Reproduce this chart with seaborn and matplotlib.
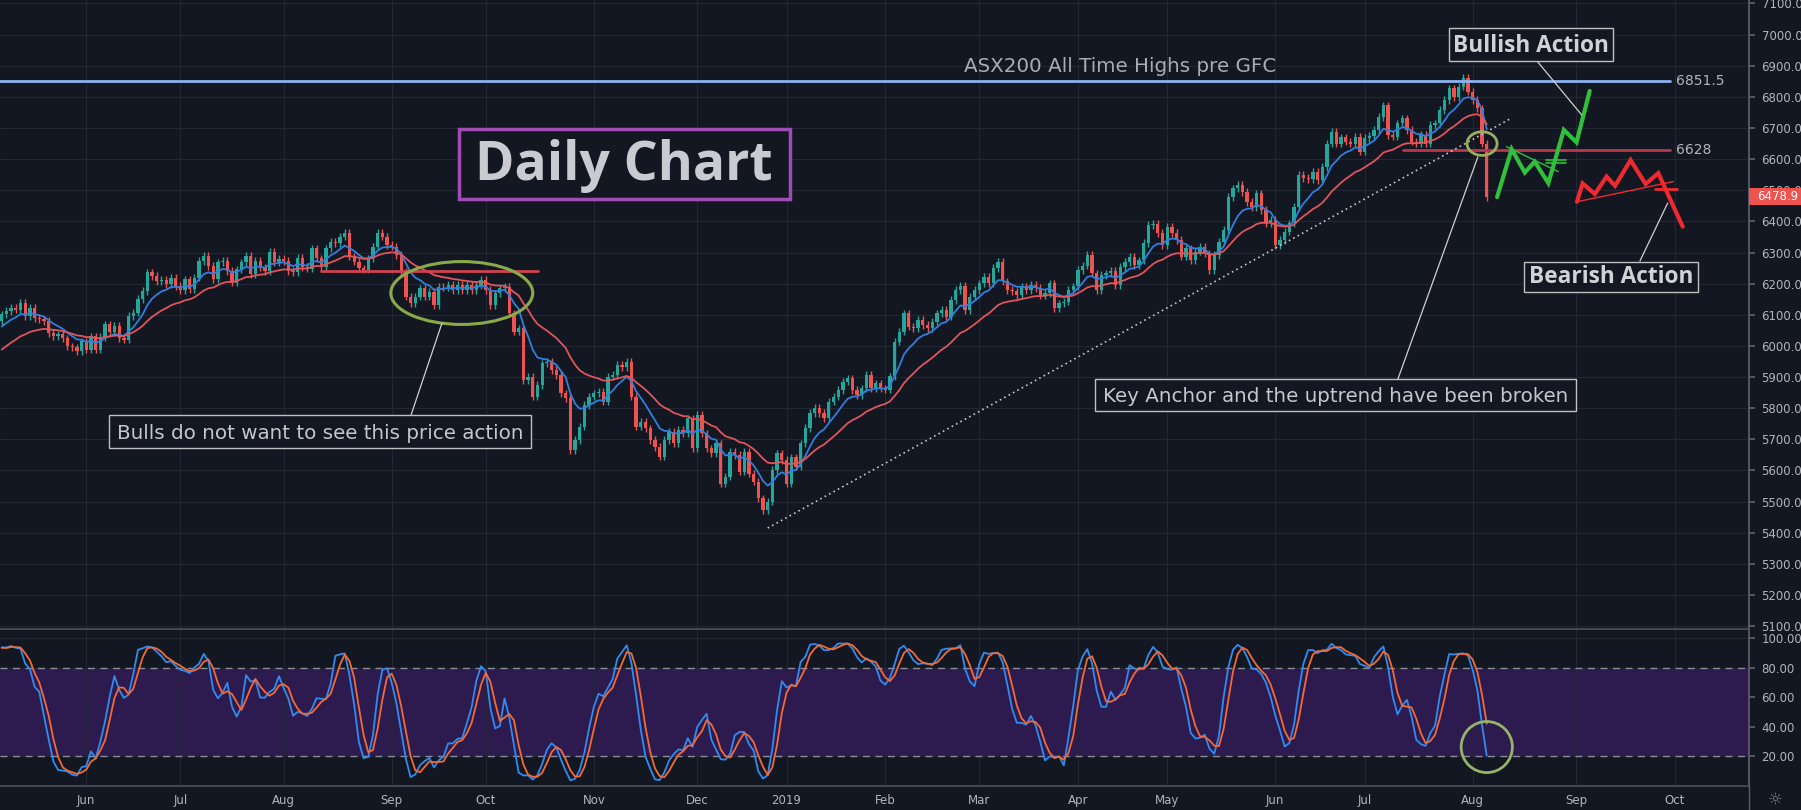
import numpy as np
import pandas as pd
import seaborn as sns
import matplotlib.pyplot as plt
from matplotlib.patches import Ellipse, Rectangle
from matplotlib.lines import Line2D

# ---- data (ASX200 daily closes, 8 May 2018 -> 6 Aug 2019) ----
closes = [
    6101, 6112, 6123, 6117, 6139, 6096, 6123, 6090, 6085, 6080,
    6042, 6031, 6037, 6024, 5999, 5995, 5983, 6015, 5988, 6031,
    5988, 6028, 6069, 6045, 6064, 6026, 6020, 6096, 6107, 6150,
    6176, 6236, 6225, 6209, 6212, 6198, 6219, 6193, 6179, 6214,
    6182, 6219, 6273, 6289, 6257, 6214, 6268, 6273, 6241, 6203,
    6246, 6268, 6289, 6230, 6273, 6252, 6241, 6303, 6268, 6279,
    6273, 6241, 6236, 6283, 6254, 6248, 6313, 6281, 6254, 6313,
    6335, 6330, 6351, 6362, 6287, 6271, 6249, 6245, 6281, 6319,
    6362, 6351, 6324, 6319, 6292, 6238, 6158, 6137, 6158, 6185,
    6158, 6174, 6131, 6190, 6188, 6196, 6180, 6196, 6180, 6196,
    6180, 6196, 6212, 6180, 6131, 6169, 6185, 6190, 6105, 6046,
    6056, 5890, 5901, 5837, 5874, 5944, 5949, 5923, 5907, 5848,
    5832, 5666, 5698, 5741, 5810, 5837, 5848, 5853, 5821, 5901,
    5907, 5939, 5933, 5949, 5837, 5741, 5757, 5735, 5698, 5676,
    5644, 5698, 5724, 5687, 5730, 5719, 5767, 5671, 5778, 5719,
    5671, 5655, 5687, 5558, 5580, 5660, 5650, 5596, 5660, 5590,
    5564, 5510, 5473, 5500, 5601, 5655, 5634, 5558, 5642, 5612,
    5687, 5736, 5784, 5800, 5784, 5768, 5821, 5837, 5859, 5885,
    5896, 5859, 5843, 5864, 5907, 5864, 5880, 5864, 5860, 5902,
    6014, 6046, 6105, 6062, 6057, 6083, 6067, 6057, 6078, 6105,
    6116, 6094, 6148, 6180, 6193, 6116, 6158, 6180, 6201, 6223,
    6201, 6250, 6271, 6207, 6180, 6175, 6164, 6191, 6180, 6196,
    6186, 6164, 6170, 6201, 6121, 6137, 6142, 6180, 6191, 6244,
    6258, 6292, 6233, 6180, 6228, 6233, 6240, 6196, 6254, 6270,
    6287, 6260, 6275, 6330, 6388, 6393, 6362, 6324, 6383, 6362,
    6340, 6287, 6313, 6276, 6303, 6319, 6297, 6244, 6292, 6335,
    6372, 6479, 6506, 6517, 6495, 6463, 6447, 6490, 6436, 6394,
    6404, 6324, 6340, 6367, 6394, 6447, 6549, 6540, 6535, 6560,
    6533, 6575, 6650, 6688, 6650, 6670, 6656, 6650, 6672, 6624,
    6668, 6675, 6693, 6736, 6773, 6677, 6672, 6715, 6731, 6693,
    6656, 6650, 6677, 6650, 6709, 6715, 6758, 6790, 6827, 6800,
    6833, 6860, 6817, 6790, 6763, 6650, 6478.9,
]
# closes before the visible window, only used to seed the EMAs / stochastic
warmup_closes = [
    5790, 5760, 5780, 5800, 5790, 5810, 5830, 5790, 5810, 5840,
    5830, 5860, 5870, 5880, 5860, 5850, 5890, 5900, 5920, 5940,
    5980, 6010, 6030, 6040, 6020, 6060, 6080, 6070, 6090, 6080,
]
asx_holidays = ['2018-06-11', '2018-12-25', '2018-12-26', '2019-01-01', '2019-01-28',
                '2019-04-19', '2019-04-22', '2019-04-25', '2019-06-10']

ath_level = 6851.5
anchor_level = 6628
sep_resistance = 6242
last_price = 6478.9

# hand-drawn projections (bar index, price)
bull_x = [318.2, 321.3, 324.1, 326.2, 329.1, 332.4, 335.1, 337.9]
bull_y = [6478, 6632, 6557, 6592, 6523, 6694, 6654, 6819]
bear_x = [335.2, 336.4, 339.0, 341.5, 343.3, 346.6, 349.8, 352.5, 357.7]
bear_y = [6463, 6522, 6488, 6544, 6514, 6597, 6520, 6555, 6383]
trend_x = [163, 320.9]
trend_y = [5415, 6729]

# ---- derived series ----
days = pd.bdate_range('2018-05-08', '2019-10-31')
days = days[~days.isin(pd.to_datetime(asx_holidays))]
n = len(closes)
idx = np.arange(n)

full = pd.Series(warmup_closes + closes, dtype=float)
w = len(warmup_closes)
ema_fast = full.ewm(span=8, adjust=False).mean().iloc[w:].values
ema_slow = full.ewm(span=21, adjust=False).mean().iloc[w:].values

opens_full = full.shift(1).fillna(full.iloc[0])
high_full = np.maximum(opens_full, full) + 12
low_full = np.minimum(opens_full, full) - 12
hh = high_full.rolling(14).max()
ll = low_full.rolling(14).min()
k = ((full - ll) / (hh - ll) * 100).rolling(3).mean()
d = k.rolling(3).mean()
stoch = pd.DataFrame({'bar': idx, 'k': k.iloc[w:].values, 'd': d.iloc[w:].values})

c = np.array(closes, dtype=float)
o = opens_full.iloc[w:].values
up = c >= o
body = np.where(np.abs(c - o) < 2, 2, c - o)

# ---- style ----
BG = '#131722'
GRID = '#232733'
TXT = '#b2b5be'
sns.set_theme(style='dark', rc={'axes.facecolor': BG, 'figure.facecolor': BG})
plt.rcParams['font.family'] = ['DejaVu Sans']

fig = plt.figure(figsize=(18.01, 8.10), dpi=100)
ax = fig.add_axes([0, 1 - 629 / 810, 1749 / 1801, 629 / 810])
ax2 = fig.add_axes([0, 1 - 786 / 810, 1749 / 1801, 157 / 810])

xlim = (-0.36, 371.8)

# month ticks
month_pos, month_lab = [], []
for i, dt in enumerate(days):
    if i > 0 and dt.month != days[i - 1].month and i < xlim[1]:
        month_pos.append(i)
        month_lab.append(str(dt.year) if dt.month == 1 else dt.strftime('%b'))

for a in (ax, ax2):
    a.set_xlim(*xlim)
    a.set_xticks(month_pos)
    a.grid(True, color=GRID, lw=0.8)
    a.yaxis.tick_right()
    a.tick_params(axis='y', colors=TXT, labelsize=8.5, length=4, pad=5, color='#5d606b')
    for s in ('left', 'top', 'bottom'):
        a.spines[s].set_visible(False)
    a.spines['right'].set_color('#5d606b')

# ---- price pane ----
ax.set_ylim(5090.7, 7111.2)
ax.set_yticks(range(5100, 7101, 100))
ax.set_yticklabels([f'{v:.1f}' for v in range(5100, 7101, 100)])
ax.tick_params(axis='x', labelbottom=False, length=0)

cols = np.where(up, '#26a69a', '#ef5350')
ax.vlines(idx, np.minimum(o, c) - 12, np.maximum(o, c) + 12, colors=cols, lw=1, zorder=3)
ax.bar(idx, body, bottom=o, width=0.7, color=cols, zorder=4, linewidth=0)

sns.lineplot(x=idx, y=ema_fast, ax=ax, color='#2f7fe0', lw=1.3, zorder=5)
sns.lineplot(x=idx, y=ema_slow, ax=ax, color='#e0555c', lw=1.3, zorder=5)

ax.plot([-1, 355], [ath_level, ath_level], color='#8ab4f0', lw=2, zorder=6)
ax.plot([298.1, 355], [anchor_level, anchor_level], color='#b8384a', lw=2, zorder=6)
ax.plot([67.9, 114.1], [sep_resistance, sep_resistance], color='#d0424e', lw=2, zorder=6)
ax.plot(trend_x, trend_y, color='#c8c8c8', lw=1.2, ls=(0, (1, 2)), zorder=6)

ax.plot(bull_x, bull_y, color='#30c03c', lw=3, zorder=7, solid_joinstyle='miter')
ax.plot([320.2, 331.2], [6640, 6560], color='#30c03c', lw=1, zorder=7)
ax.plot([328.7, 332.8], [6597, 6597], color='#30c03c', lw=1.2, zorder=7)
ax.plot([328.7, 332.8], [6589, 6589], color='#30c03c', lw=1.2, zorder=7)
ax.plot(bear_x, bear_y, color='#ee2a30', lw=3, zorder=7, solid_joinstyle='miter')
ax.plot([335.2, 355.7], [6463, 6528], color='#ee2a30', lw=1, zorder=7)
ax.plot([351.8, 356.4], [6503, 6503], color='#ee2a30', lw=2, zorder=7)

ax.add_patch(Ellipse((97.9, 6170), 30.2, 202, fill=False, ec='#8aaa4a', lw=2.2, zorder=8))
ax.add_patch(Ellipse((315, 6650), 6.4, 76, fill=False, ec='#9aae62', lw=2, zorder=8))

# leader lines
for (x0, y0, x1, y1) in [(93.7, 6074, 87.1, 5778), (314.1, 6607, 297.1, 5894),
                         (326.7, 6915, 336.2, 6742), (348.6, 6273, 354.5, 6459)]:
    ax.plot([x0, x1], [y0, y1], color='#d0d0d0', lw=0.9, zorder=8)

ax.text(356.2, ath_level, '6851.5', color=TXT, fontsize=10, va='center', ha='left')
ax.text(356.2, anchor_level, '6628', color=TXT, fontsize=10, va='center', ha='left')

# ---- oscillator pane ----
ax2.set_ylim(0, 106.4)
ax2.set_yticks([20, 40, 60, 80, 100])
ax2.set_yticklabels([f'{v:.2f}' for v in [20, 40, 60, 80, 100]])
ax2.spines['top'].set_visible(True)
ax2.spines['top'].set_color('#4a4e59')
ax2.spines['bottom'].set_visible(True)
ax2.spines['bottom'].set_color('#4a4e59')
ax2.set_xticklabels(month_lab)
ax2.tick_params(axis='x', colors=TXT, labelsize=8.5, length=0, pad=6)
ax2.axhspan(20, 80, color='#2d1a4e', zorder=0)
for lvl in (20, 80):
    ax2.axhline(lvl, color='#8a8d99', lw=1, ls=(0, (5, 4)), zorder=1)
sns.lineplot(data=stoch, x='bar', y='k', ax=ax2, color='#2f8cf0', lw=1.3, zorder=3)
sns.lineplot(data=stoch, x='bar', y='d', ax=ax2, color='#f36a34', lw=1.3, zorder=3)
ax2.add_patch(Ellipse((316, 26.4), 10.9, 34.6, fill=False, ec='#93b46a', lw=2, zorder=5))

for a in (ax, ax2):
    a.set_xlabel('')
    a.set_ylabel('')


# ---- figure-level text boxes ----
def fx(x):
    return x / 1801


def fy(y):
    return 1 - y / 810


def box(x0, y0, x1, y1, ec='#c0c0c0', lw=1.0):
    fig.add_artist(Rectangle((fx(x0), fy(y1)), (x1 - x0) / 1801, (y1 - y0) / 810,
                             transform=fig.transFigure, fill=True, fc=BG, ec=ec, lw=lw, zorder=20))


box(459, 129, 790, 199, ec='#a04cb4', lw=2.5)
fig.text(fx(624), fy(180), 'Daily Chart', ha='center', va='baseline', fontsize=38.5,
         fontweight='bold', family=['Open Sans', 'DejaVu Sans'], color='#c9cbd0', zorder=21)

box(109, 415, 531, 448)
fig.text(fx(320), fy(439), 'Bulls do not want to see this price action', ha='center',
         va='baseline', fontsize=14.3, color='#c5c7cc', zorder=21)

box(1095, 379, 1576, 411)
fig.text(fx(1335.5), fy(402), 'Key Anchor and the uptrend have been broken', ha='center',
         va='baseline', fontsize=14.3, color='#c5c7cc', zorder=21)

box(1449, 28, 1613, 61)
fig.text(fx(1531), fy(51.7), 'Bullish Action', ha='center', va='baseline', fontsize=16.3,
         fontweight='bold', family=['Open Sans', 'DejaVu Sans'], color='#d0d2d6', zorder=21)

box(1524, 262, 1698, 292)
fig.text(fx(1611), fy(283.3), 'Bearish Action', ha='center', va='baseline', fontsize=16.3,
         fontweight='bold', family=['Open Sans', 'DejaVu Sans'], color='#d0d2d6', zorder=21)

fig.text(fx(1120), fy(72), 'ASX200 All Time Highs pre GFC', ha='center', va='baseline',
         fontsize=14.3, color='#a9acb4', zorder=21)

# last price tag on the axis
ly = 3.5 + (7100 - last_price) * 0.3113
fig.add_artist(Rectangle((fx(1749), fy(ly + 8.5)), 52 / 1801, 17 / 810,
                         transform=fig.transFigure, fc='#ef5350', ec='none', zorder=22))
fig.text(fx(1757), fy(ly), f'{last_price:.1f}', ha='left', va='center', fontsize=8.5,
         color='white', zorder=23)

# axis column line through the date row and settings icon
fig.add_artist(Line2D([fx(1749), fx(1749)], [0, fy(786)], transform=fig.transFigure,
                      color='#5d606b', lw=1))
fig.text(fx(1775), fy(800), '\u263c', ha='center', va='center', fontsize=12, color='#787b86')

fig.savefig('out.png', dpi=100, facecolor=BG)
